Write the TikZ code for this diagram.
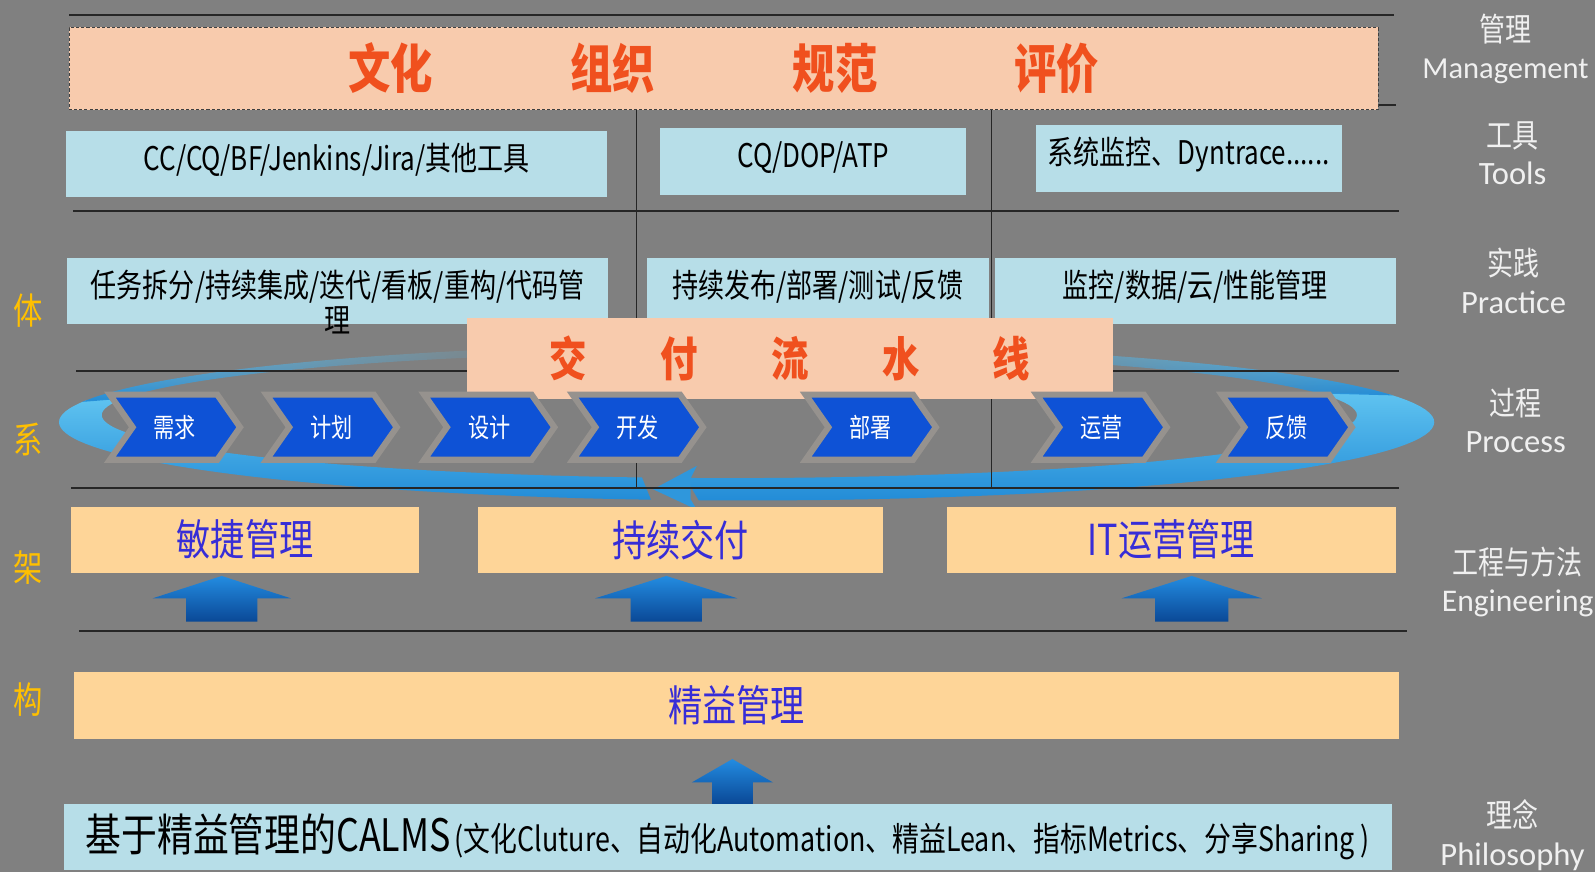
\documentclass[tikz,border=0pt]{standalone}
\usepackage{fontspec}
\setmainfont{Noto Sans CJK SC}[FakeStretch=0.8]
\newfontfamily\latinface{Carlito}
\usepackage{xcolor}
\usepackage{tikz}
\usetikzlibrary{shapes.symbols, calc, fadings}
\definecolor{slidegray}{RGB}{128,128,128}
\definecolor{mgmtpeach}{RGB}{248,203,173}
\definecolor{mgmtred}{RGB}{240,80,30}
\definecolor{cellblue}{RGB}{183,222,232}
\definecolor{celltan}{RGB}{254,213,152}
\definecolor{engblue}{RGB}{55,45,215}
\definecolor{stageblue}{RGB}{14,82,214}
\definecolor{stageedge}{RGB}{150,146,142}
\definecolor{ringlight}{RGB}{95,195,240}
\definecolor{ringdark}{RGB}{35,140,215}
\definecolor{arrowtop}{RGB}{35,140,225}
\definecolor{arrowbottom}{RGB}{10,72,150}
\definecolor{sidegold}{RGB}{255,192,0}
\definecolor{layerwhite}{RGB}{240,240,240}

\tikzset{
  cellbox/.style={fill=cellblue, minimum height=65pt, inner sep=0pt, font=\fontsize{32}{36}\selectfont},
  raised/.style={text height=24pt, text depth=12pt},
  engbox/.style={fill=celltan, minimum height=65pt, inner sep=0pt, text=engblue, font=\fontsize{42}{46}\selectfont},
  stagebox/.style={signal, signal to=east, signal from=west, signal pointer angle=110,
                   fill=stageblue, draw=stageedge, line width=6pt, minimum width=128pt, minimum height=64pt,
                   text=white, font=\fontsize{26}{28}\selectfont},
  sideword/.style={text=sidegold, font=\fontsize{36}{36}\selectfont},
  layername/.style={text=layerwhite, align=center, font=\fontsize{32}{37}\selectfont},
  sepline/.style={line width=2pt, black!85},
  liftarrow/.style={top color=arrowtop, bottom color=arrowbottom, draw=none},
  ringband/.style={top color=ringlight, bottom color=ringdark, draw=none},
}

% tip, head length, total length, head half width, shaft half width
\newcommand{\liftarrow}[5]{%
  \shade[liftarrow] (#1) -- ++(#4,#2) -- ++({#5-#4},0) -- ++(0,{#3-#2}) -- ++({-2*#5},0)
    -- ++(0,{#2-#3}) -- ++({#5-#4},0) -- cycle;}

% piece of the ring between the outer and the inner ellipse
\newcommand{\ringpiece}[3]{%
  \shade[ringband, #3] plot[domain=#1:#2, samples=50] ({734+676*cos(\x)}, {415+77*sin(\x)})
    -- plot[domain=#2:#1, samples=50] ({717+617*cos(\x)}, {408+62*sin(\x)}) -- cycle;}

\begin{document}
\begin{tikzpicture}[x=1pt, y=-1pt]
\fill[slidegray] (0,0) rectangle (1568,857);
\useasboundingbox (0,0) rectangle (1568,857);

% delivery ring
\ringpiece{98}{196}{}
\ringpiece{195}{252}{path fading=east}
\ringpiece{-21}{94}{}
\ringpiece{-78}{-20}{path fading=west}

% grid lines
\draw[sepline] (68,15) -- (1370,15);
\draw[sepline] (1355,103) -- (1372,103);
\draw[sepline] (72,207) -- (1375,207);
\draw[sepline] (75,365) -- (1375,365);
\draw[sepline] (70,480) -- (1375,480);
\draw[sepline] (78,620) -- (1383,620);
\draw[sepline, line width=1.2pt] (626,108) -- (626,480);
\draw[sepline, line width=1.2pt] (975,108) -- (975,480);

\fill[ringdark!80!ringlight] (642,481) -- (685,458) -- (679,470) -- (679,491) -- (685,501) -- cycle;
\draw[sepline] (630,480) -- (700,480);

\node[fill=mgmtpeach, draw=black!75, densely dashed, line width=1pt, minimum width=1287pt, minimum height=81pt,
      inner sep=0pt, text=mgmtred, font=\bfseries\fontsize{52}{56}\selectfont] (mgmt) at (711.5,67.5)
      {\makebox[217pt]{文化}\makebox[219pt]{组织}\makebox[219pt]{规范}\makebox[217pt]{评价}};

\node[cellbox, raised, minimum width=532pt] (tool1) at (331,161.5) {CC/CQ/BF/Jenkins/Jira/其他工具};
\node[cellbox, raised, minimum width=301pt, minimum height=66pt] (tool2) at (799.5,159) {CQ/DOP/ATP};
\node[cellbox, raised, minimum width=301pt, minimum height=66pt] (tool3) at (1168.5,156) {系统监控、Dyntrace......};

\node[cellbox, raised, minimum width=532pt,
      label={[font=\fontsize{32}{36}\selectfont, anchor=center, yshift=4pt]south:理}] (prac1) at (332,286.5)
      {任务拆分/持续集成/迭代/看板/重构/代码管};
\node[cellbox, raised, minimum width=336pt] (prac2) at (804,286.5) {持续发布/部署/测试/反馈};
\node[cellbox, raised, minimum width=394pt] (prac3) at (1175,286.5) {监控/数据/云/性能管理};

\node[fill=mgmtpeach, minimum width=635pt, minimum height=79pt, inner sep=0pt, text=mgmtred,
      font=\bfseries\fontsize{46}{50}\selectfont] (pipeline) at (776.5,352.5)
      {\makebox[109pt]{交}\makebox[109pt]{付}\makebox[109pt]{流}\makebox[109pt]{水}\makebox[109pt]{线}};

\node[stagebox] (demand) at (172,420) {需求};
\node[stagebox] (plan) at (326,420) {计划};
\node[stagebox] (design) at (481,420) {设计};
\node[stagebox] (develop) at (627,420) {开发};
\node[stagebox] (deploy) at (856,420) {部署};
\node[stagebox] (operate) at (1083,420) {运营};
\node[stagebox] (feedback) at (1265,420) {反馈};

\node[engbox, minimum width=342pt] (agile) at (241,530.5) {敏捷管理};
\node[engbox, minimum width=398pt] (delivery) at (669,530.5) {持续交付};
\node[engbox, minimum width=441pt] (itops) at (1151.5,530.5) {IT运营管理};

\liftarrow{$(agile.south)+(-23,3)$}{22}{45}{68}{35}
\liftarrow{$(delivery.south)+(-14,3)$}{22}{45}{70}{35}
\liftarrow{$(itops.south)+(20,3)$}{22}{45}{69}{36}

\node[engbox, minimum width=1302pt] (lean) at (724,693.5) {精益管理};

\node[cellbox, minimum width=1305pt] (calms) at (715.5,822.5)
      {{\fontsize{44}{46}\selectfont 基于精益管理的CALMS}\hspace{4pt}{\fontsize{33}{36}\selectfont (文化Cluture、自动化Automation、精益Lean、指标Metrics、分享Sharing )}};

\liftarrow{$(lean.south)+(-4,20)$}{23}{44}{40}{20}

\node[sideword] (ti) at (28,305) {体};
\node[sideword] (xi) at (28,432) {系};
\node[sideword] (jia) at (28,558) {架};
\node[sideword] (gou) at (28,688) {构};

\node[layername] (lblmgmt) at (1480,48) {管理\\{\latinface\fontsize{30}{37}\selectfont Management}};
\node[layername] (lbltools) at (1487,150.5) {工具\\{\latinface Tools}};
\node[layername] (lblprac) at (1488,276) {实践\\{\latinface Practice}};
\node[layername] (lblproc) at (1490,413.5) {过程\\{\latinface Process}};
\node[layername] (lbleng) at (1492,572) {工程与方法\\{\latinface\fontsize{31}{37}\selectfont Engineering}};
\node[layername] (lblphil) at (1487,821) {理念\\{\latinface Philosophy}};
\end{tikzpicture}
\end{document}
